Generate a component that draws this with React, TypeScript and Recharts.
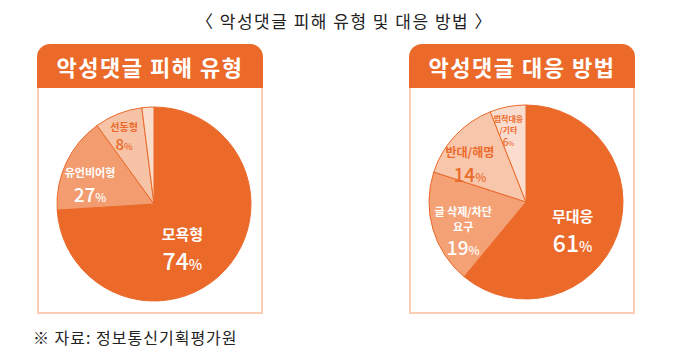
import { PieChart, Pie, Cell } from "recharts";

const orange = "#EB6A2A";
const cardBorder = "#F9CDB6";
const font = "'Noto Sans CJK KR', 'Noto Sans', sans-serif";

const damageNames = ["모욕형", "유언비어형", "선동형", "기타"];
const damageValues = [74, 16, 8, 2];
const damageLabels = ["74", "27", "8", ""];
const damageColors = [orange, "#F29C70", "#F7C3A6", "#FADCCB"];

// 대응 방법
const responseNames = ["무대응", "글 삭제/차단\n요구", "반대/해명", "법적대응\n/기타"];
const responseValues = [61, 19, 14, 6];
const responseLabels = ["61", "19", "14", "6"];
const responseColors = [orange, "#F4A176", "#F8C6AB", "#FBDDCF"];

type LabelStyle = { r: number; shift: number; name: number; pct: number; color: string };

const damageStyle: LabelStyle[] = [
  { r: 0.54, shift: 14, name: 15, pct: 23, color: "#fff" },
  { r: 0.69, shift: -8, name: 11, pct: 19, color: "#fff" },
  { r: 0.77, shift: -2, name: 10, pct: 15, color: orange },
  { r: 0.8, shift: 0, name: 8, pct: 8, color: orange },
];

const responseStyle: LabelStyle[] = [
  { r: 0.56, shift: 11, name: 15, pct: 23, color: "#fff" },
  { r: 0.71, shift: -8, name: 11, pct: 19, color: "#fff" },
  { r: 0.7, shift: -9, name: 12, pct: 19, color: orange },
  { r: 0.76, shift: -3, name: 8, pct: 10, color: orange },
];

const RAD = Math.PI / 180;

function makeLabel(names: string[], labels: string[], styles: LabelStyle[]) {
  return (props: any) => {
    const { cx, cy, midAngle, outerRadius, index } = props;
    const s = styles[index];
    if (!labels[index]) return null;
    const angle = midAngle - s.shift;
    const x = cx + outerRadius * s.r * Math.cos(-angle * RAD);
    const y = cy + outerRadius * s.r * Math.sin(-angle * RAD);
    const lines = names[index].split("\n");
    const lineH = s.name * 1.35;
    const total = lines.length * lineH + s.pct * 1.2;
    const top = y - total / 2;
    return (
      <g>
        {lines.map((ln, i) => (
          <text
            key={i}
            x={x}
            y={top + (i + 0.8) * lineH}
            textAnchor="middle"
            fill={s.color}
            fontSize={s.name}
            fontWeight={700}
            fontFamily={font}
          >
            {ln}
          </text>
        ))}
        <text
          x={x}
          y={top + lines.length * lineH + s.pct * 1.12}
          textAnchor="middle"
          fill={s.color}
          fontSize={s.pct}
          fontWeight={500}
          fontFamily={font}
        >
          {labels[index]}
          <tspan fontSize={s.pct * 0.62}>%</tspan>
        </text>
      </g>
    );
  };
}

function Card({
  left,
  title,
  names,
  values,
  labels,
  colors,
  styles,
  cy,
}: {
  left: number;
  title: string;
  names: string[];
  values: number[];
  labels: string[];
  colors: string[];
  styles: LabelStyle[];
  cy: number;
}) {
  const data = names.map((n, i) => ({ name: n, value: values[i] }));
  return (
    <div style={{ position: "absolute", left, top: 44, width: 226, height: 272 }}>
      <div
        style={{
          height: 44,
          background: orange,
          borderRadius: "13px 13px 0 0",
          color: "#fff",
          fontFamily: font,
          fontWeight: 700,
          fontSize: 22,
          lineHeight: "44px",
          textAlign: "center",
          letterSpacing: 1.5,
        }}
      >
        {title}
      </div>
      <div
        style={{
          position: "absolute",
          top: 44,
          left: 0,
          width: 222,
          height: 224,
          borderLeft: `2px solid ${cardBorder}`,
          borderRight: `2px solid ${cardBorder}`,
          borderBottom: `2px solid ${cardBorder}`,
        }}
      />
      <div style={{ position: "absolute", top: 44, left: 0 }}>
        <PieChart width={226} height={226}>
          <Pie
            data={data}
            dataKey="value"
            cx={112}
            cy={cy}
            outerRadius={97}
            startAngle={90}
            endAngle={-270}
            stroke={orange}
            strokeWidth={1}
            labelLine={false}
            label={makeLabel(names, labels, styles)}
            isAnimationActive={false}
          >
            {data.map((d, i) => (
              <Cell key={d.name} fill={colors[i]} />
            ))}
          </Pie>
        </PieChart>
      </div>
    </div>
  );
}

export default function App() {
  return (
    <div style={{ position: "absolute", left: 0, top: 0, width: 689, height: 355, background: "#fff" }}>
      <div
        style={{
          position: "absolute",
          top: 8,
          left: 0,
          width: 689,
          textAlign: "center",
          fontFamily: font,
          fontSize: 17,
          letterSpacing: 1.5,
          color: "#222",
        }}
      >
        〈 악성댓글 피해 유형 및 대응 방법 〉
      </div>
      <Card
        left={37}
        title="악성댓글 피해 유형"
        names={damageNames}
        values={damageValues}
        labels={damageLabels}
        colors={damageColors}
        styles={damageStyle}
        cy={111}
      />
      <Card
        left={409}
        title="악성댓글 대응 방법"
        names={responseNames}
        values={responseValues}
        labels={responseLabels}
        colors={responseColors}
        styles={responseStyle}
        cy={109}
      />
      <div
        style={{
          position: "absolute",
          top: 325,
          left: 33,
          fontFamily: font,
          fontSize: 16,
          letterSpacing: 1,
          color: "#222",
        }}
      >
        ※ 자료: 정보통신기획평가원
      </div>
    </div>
  );
}
